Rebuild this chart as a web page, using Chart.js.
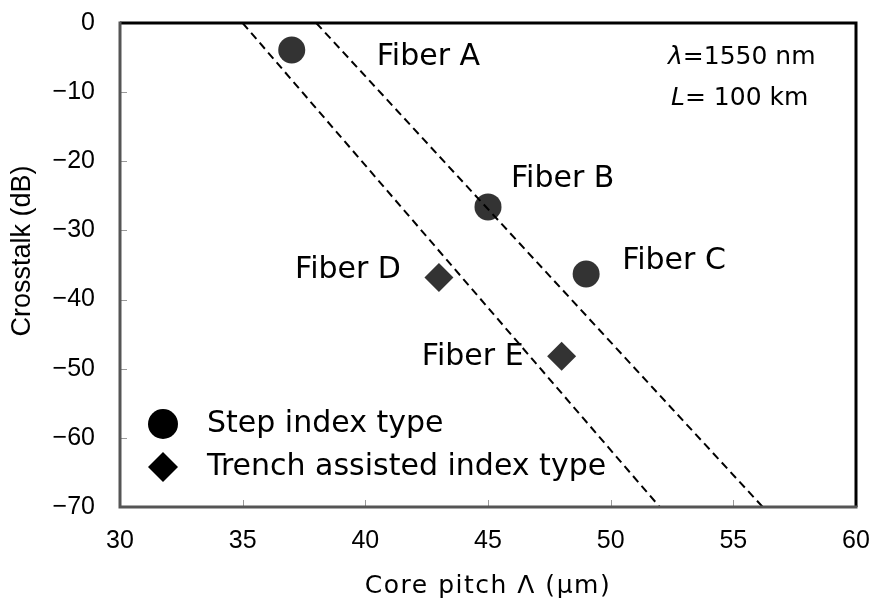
<!DOCTYPE html>
<html lang="en">
<head>
  <title>Crosstalk vs core pitch</title>
  <script src="https://cdn.jsdelivr.net/npm/chart.js@4.4.3/dist/chart.umd.min.js"></script>
  <style>
    html, body { margin: 0; padding: 0; background: #fff; overflow: hidden; }
    .chart-container { width: 873px; height: 599px; }
    #xtalkChart { display: block; }
  </style>
</head>
<body>
  <div class="chart-container">
    <canvas id="xtalkChart"></canvas>
  </div>

  <script>
    // measured fibers
    const stepNames = ['Fiber A', 'Fiber B', 'Fiber C'];
    const stepPitch = [37, 45, 49];
    const stepXtalk = [-3.9, -26.6, -36.3];

    const trenchNames = ['Fiber D', 'Fiber E'];
    const trenchPitch = [43, 48];
    const trenchXtalk = [-36.8, -48.2];

    // dashed guide lines
    const guide1Pitch = [35, 52];
    const guide1Xtalk = [0, -70];
    const guide2Pitch = [38, 56.2];
    const guide2Xtalk = [0, -70];

    const xTicks = [30, 35, 40, 45, 50, 55, 60];
    const yTicks = [-70, -60, -50, -40, -30, -20, -10, 0];

    const seriesLabels = ['Step index type', 'Trench assisted index type'];

    const SANS = "'Liberation Sans', Arial, sans-serif";
    const WIDE = "'DejaVu Sans', sans-serif";

    function toPoints(xs, ys) {
      return xs.map((x, i) => ({ x: x, y: ys[i] }));
    }

    function noPadding(s) {
      s.paddingTop = 0; s.paddingBottom = 0; s.paddingLeft = 0; s.paddingRight = 0;
    }

    // frame, inner tick marks and axis titles
    const framePlugin = {
      id: 'frame',
      afterDraw(chart) {
        const { ctx, chartArea: a, scales } = chart;
        ctx.save();
        ctx.strokeStyle = '#999';
        ctx.lineWidth = 1;
        xTicks.forEach(v => {
          const px = Math.round(scales.x.getPixelForValue(v)) + 0.5;
          ctx.beginPath(); ctx.moveTo(px, a.bottom); ctx.lineTo(px, a.bottom - 7); ctx.stroke();
        });
        yTicks.forEach(v => {
          const py = Math.round(scales.y.getPixelForValue(v)) + 0.5;
          ctx.beginPath(); ctx.moveTo(a.left, py); ctx.lineTo(a.left + 7, py); ctx.stroke();
        });
        ctx.lineWidth = 3;
        ctx.strokeStyle = '#000';
        ctx.beginPath();
        ctx.moveTo(a.left, a.top); ctx.lineTo(a.right, a.top); ctx.lineTo(a.right, a.bottom);
        ctx.stroke();
        ctx.strokeStyle = '#555';
        ctx.beginPath();
        ctx.moveTo(a.left, a.top - 1.5); ctx.lineTo(a.left, a.bottom); ctx.lineTo(a.right + 1.5, a.bottom);
        ctx.stroke();

        // axis titles
        ctx.fillStyle = '#000';
        ctx.textBaseline = 'middle';
        ctx.textAlign = 'center';
        ctx.font = '25px ' + WIDE;
        if ('letterSpacing' in ctx) ctx.letterSpacing = '1.5px';
        ctx.fillText('Core pitch Λ (μm)', (a.left + a.right) / 2, a.bottom + 79);
        if ('letterSpacing' in ctx) ctx.letterSpacing = '0px';
        ctx.translate(23, (a.top + a.bottom) / 2 - 14);
        ctx.rotate(-Math.PI / 2);
        ctx.font = '27px ' + SANS;
        ctx.fillText('Crosstalk (dB)', 0, 0);
        ctx.restore();
      }
    };

    // fiber names next to points
    const labelOffsets = {
      'Fiber A': [85, 7, 'left'],
      'Fiber B': [23, -28, 'left'],
      'Fiber C': [36, -13, 'left'],
      'Fiber D': [-38, -7, 'right'],
      'Fiber E': [-38, 1, 'right']
    };

    const pointLabelPlugin = {
      id: 'pointLabels',
      afterDatasetsDraw(chart) {
        const { ctx, scales } = chart;
        ctx.save();
        ctx.font = '30px ' + WIDE;
        ctx.fillStyle = '#000';
        ctx.textBaseline = 'middle';
        const draw = (names, xs, ys) => {
          names.forEach((n, i) => {
            const off = labelOffsets[n];
            ctx.textAlign = off[2];
            ctx.fillText(n, scales.x.getPixelForValue(xs[i]) + off[0], scales.y.getPixelForValue(ys[i]) + off[1]);
          });
        };
        draw(stepNames, stepPitch, stepXtalk);
        draw(trenchNames, trenchPitch, trenchXtalk);
        ctx.restore();
      }
    };

    // legend inside the plot + conditions text
    const insetPlugin = {
      id: 'inset',
      afterDraw(chart) {
        const { ctx, chartArea: a } = chart;
        ctx.save();
        ctx.fillStyle = '#000';
        const lx = a.left + 43;
        const y1 = a.bottom - 83, y2 = a.bottom - 40;
        ctx.beginPath(); ctx.arc(lx, y1, 15, 0, Math.PI * 2); ctx.fill();
        ctx.beginPath();
        ctx.moveTo(lx - 15, y2); ctx.lineTo(lx, y2 - 15); ctx.lineTo(lx + 15, y2); ctx.lineTo(lx, y2 + 15);
        ctx.closePath(); ctx.fill();
        ctx.font = '30px ' + WIDE;
        ctx.textAlign = 'left';
        ctx.textBaseline = 'middle';
        ctx.fillText(seriesLabels[0], lx + 44, y1);
        ctx.fillText(seriesLabels[1], lx + 44, y2);

        // λ and L
        const tx = a.left + 548;
        ctx.font = 'italic 25px ' + WIDE;
        ctx.fillText('λ', tx, a.top + 34);
        let w = ctx.measureText('λ').width;
        ctx.font = '25px ' + WIDE;
        ctx.fillText('=1550 nm', tx + w, a.top + 34);
        ctx.font = 'italic 25px ' + WIDE;
        ctx.fillText('L', tx + 3, a.top + 75);
        w = ctx.measureText('L').width;
        ctx.font = '25px ' + WIDE;
        ctx.fillText('= 100 km', tx + 3 + w, a.top + 75);
        ctx.restore();
      }
    };

    const ctx = document.getElementById('xtalkChart').getContext('2d');
    new Chart(ctx, {
      type: 'scatter',
      data: {
        datasets: [
          {
            label: seriesLabels[0],
            data: toPoints(stepPitch, stepXtalk),
            pointStyle: 'circle',
            pointRadius: 13.5,
            pointHoverRadius: 13.5,
            backgroundColor: '#333',
            borderWidth: 0,
            order: 2
          },
          {
            label: seriesLabels[1],
            data: toPoints(trenchPitch, trenchXtalk),
            pointStyle: 'rectRot',
            pointRadius: 14.5,
            pointHoverRadius: 14.5,
            backgroundColor: '#333',
            borderWidth: 0,
            order: 2
          },
          {
            type: 'line',
            label: 'guide 1',
            data: toPoints(guide1Pitch, guide1Xtalk),
            borderColor: '#000',
            borderWidth: 2,
            borderDash: [8, 5],
            pointRadius: 0,
            fill: false,
            order: 1
          },
          {
            type: 'line',
            label: 'guide 2',
            data: toPoints(guide2Pitch, guide2Xtalk),
            borderColor: '#000',
            borderWidth: 2,
            borderDash: [8, 5],
            pointRadius: 0,
            fill: false,
            order: 1
          }
        ]
      },
      options: {
        responsive: true,
        maintainAspectRatio: false,
        animation: false,
        layout: { padding: { top: 23, right: 17, left: 0, bottom: 0 } },
        plugins: {
          legend: { display: false },
          tooltip: { enabled: false }
        },
        scales: {
          x: {
            type: 'linear',
            min: 30,
            max: 60,
            afterFit: s => { s.height = 92; noPadding(s); },
            afterBuildTicks: s => { s.ticks = xTicks.map(v => ({ value: v })); },
            grid: { display: false, drawTicks: false },
            border: { display: false },
            ticks: { color: '#000', font: { family: SANS, size: 25 }, padding: 19, maxRotation: 0 },
            title: { display: false }
          },
          y: {
            type: 'linear',
            min: -70,
            max: 0,
            afterFit: s => { s.width = 120; noPadding(s); },
            afterBuildTicks: s => { s.ticks = yTicks.map(v => ({ value: v })); },
            grid: { display: false, drawTicks: false },
            border: { display: false },
            ticks: {
              color: '#000',
              font: { family: SANS, size: 25 },
              padding: 25,
              callback: v => String(v).replace('-', '\u2212')
            },
            title: { display: false }
          }
        }
      },
      plugins: [framePlugin, pointLabelPlugin, insetPlugin]
    });
  </script>
</body>
</html>
